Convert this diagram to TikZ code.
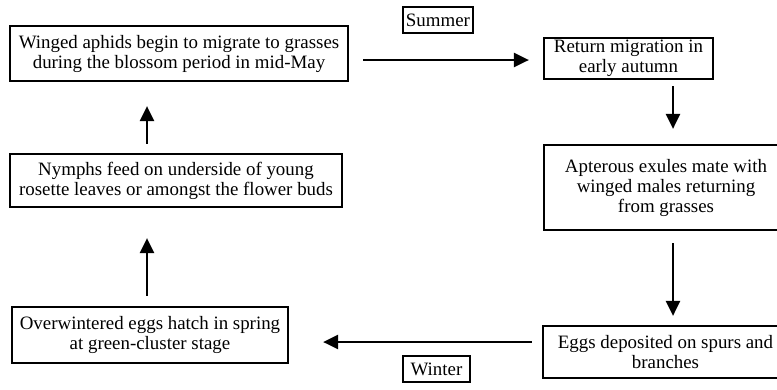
\documentclass[tikz,border=0pt]{standalone}
\usepackage{fontspec}
\setmainfont{Liberation Serif}
\usetikzlibrary{arrows.meta}

\begin{document}
\begin{tikzpicture}[x=1pt, y=-1pt,
    box/.style={draw, line width=2.2pt, align=center, inner sep=0pt, font=\fontsize{18.9}{20}\selectfont},
    season/.style={box, minimum height=26pt},
    arr/.style={line width=2.5pt, -{Triangle[length=15pt,width=14pt]}}]
  \useasboundingbox (0,0) rectangle (777,389);

  % stages of the cycle
  \node[box, minimum width=338pt, minimum height=55pt] (winged) at (179,53.5) {Winged aphids begin to migrate to grasses\\during the blossom period in mid-May};
  \node[box, minimum width=169pt, minimum height=41pt] (return) at (628.5,58.5) {Return migration in\\early autumn};
  \node[box, minimum width=244pt, minimum height=85pt] (mate) at (666,187.5) {Apterous exules mate with\\winged males returning\\from grasses};
  \node[box, minimum width=245pt, minimum height=52pt] (eggs) at (665.5,352) {Eggs deposited on spurs and\\branches};
  \node[box, minimum width=276pt, minimum height=56pt] (hatch) at (150,335) {Overwintered eggs hatch in spring\\at green-cluster stage};
  \node[box, minimum width=332pt, minimum height=53pt] (nymphs) at (176,180.5) {Nymphs feed on underside of young\\rosette leaves or amongst the flower buds};

  % seasons
  \node[season, minimum width=70pt] (summer) at (438,20) {Summer};
  \node[season, minimum width=67pt] (winter) at (436.5,369) {Winter};

  % arrows
  \draw[arr, shorten <=14pt, shorten >=14pt] ([yshift=-6.5pt]winged.east) -- ([yshift=-6.5pt]winged.east -| return.west);
  \draw[arr, shorten <=6pt, shorten >=15pt] ([xshift=44.5pt]return.south) -- ([xshift=44.5pt]return.south |- mate.north);
  \draw[arr, shorten <=12pt, shorten >=9pt] ([xshift=7pt]mate.south) -- ([xshift=7pt]mate.south |- eggs.north);
  \draw[arr, shorten <=10pt, shorten >=34pt] ([yshift=10pt]eggs.west) -- ([yshift=10pt]eggs.west -| hatch.east);
  \draw[arr, shorten <=10pt, shorten >=30pt] ([xshift=-3pt]hatch.north) -- ([xshift=-3pt]hatch.north |- nymphs.south);
  \draw[arr, shorten <=9pt, shorten >=24pt] ([xshift=-29pt]nymphs.north) -- ([xshift=-29pt]nymphs.north |- winged.south);
\end{tikzpicture}
\end{document}
